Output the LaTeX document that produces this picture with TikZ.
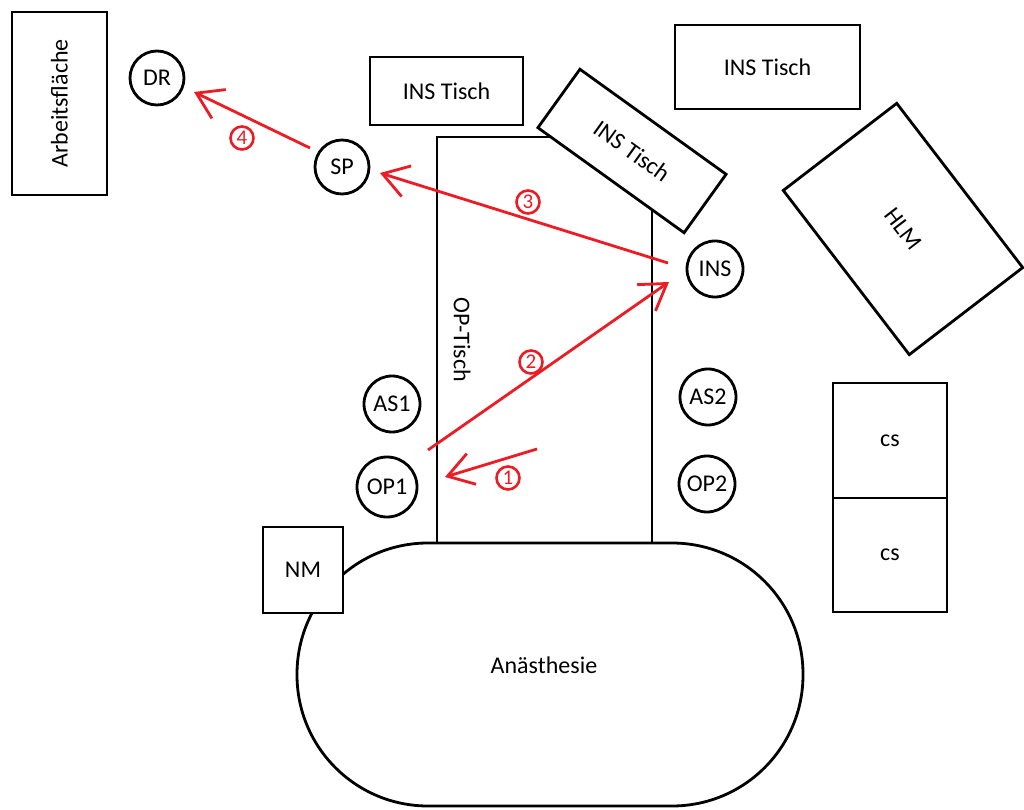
\documentclass[tikz,border=0pt]{standalone}
\usepackage{fontspec}
\setmainfont{Carlito}
\usetikzlibrary{arrows.meta}
\definecolor{arrred}{RGB}{237,28,36}
\tikzset{
  thing/.style={draw=black, line width=2.8pt, fill=white, inner sep=0pt, font=\fontsize{24}{28}\selectfont},
  pers/.style={thing, circle},
  lbl/.style={inner sep=0pt, font=\fontsize{24}{28}\selectfont},
  flow/.style={draw=arrred, line width=2.8pt, -{Straight Barb[length=25pt,width=32pt,line width=2.8pt]}},
  num/.style={circle, draw=arrred, line width=2.6pt, text=arrred, minimum size=23pt, inner sep=0pt, font=\fontsize{21}{22}\selectfont}
}
\begin{document}
\begin{tikzpicture}[x=1pt,y=1pt]
\useasboundingbox[fill=white] (0,0) rectangle (1024,809);
% Anaesthesie
\draw[line width=2.8pt, rounded corners=131pt] (297,266) rectangle (803,3);
\node[lbl] (anae) at (544,144) {Anästhesie};
% NM
\node[thing, minimum width=80pt, minimum height=86pt] (nm) at (303,239) {NM};
% OP-Tisch
\node[thing, fill=none, minimum width=215pt, minimum height=406pt] (op) at (544.5,469) {};
\node[lbl, rotate=-90] (optxt) at (462,469) {OP-Tisch};
% INS Tisch rotated
\node[thing, rotate=-35.7, minimum width=180pt, minimum height=72pt] (ins3) at (632,658) {INS Tisch};
% INS Tisch boxes
\node[thing, minimum width=153pt, minimum height=68pt] (ins1) at (446.5,718) {INS Tisch};
\node[thing, minimum width=185pt, minimum height=84pt] (ins2) at (767.5,742) {INS Tisch};
% Arbeitsflaeche
\node[thing, rotate=90, minimum width=183pt, minimum height=95pt] (arb) at (59.5,705.5) {Arbeitsfläche};
% HLM
\node[thing, rotate=-52.5, minimum width=207pt, minimum height=143pt] (hlm) at (903,580) {HLM};
% cs
\node[thing, minimum width=114pt, minimum height=115pt] (cs1) at (890,368.5) {cs};
\node[thing, minimum width=114pt, minimum height=114pt] (cs2) at (890,254) {cs};
% persons
\node[pers, minimum size=54pt] (dr) at (157,731) {DR};
\node[pers, minimum size=54pt] (sp) at (342,642) {SP};
\node[pers, minimum size=56pt] (ins) at (715,540) {INS};
\node[pers, minimum size=56pt] (as1) at (392,405) {AS1};
\node[pers, minimum size=60pt] (op1) at (387,322) {OP1};
\node[pers, minimum size=56pt] (as2) at (708,412) {AS2};
\node[pers, minimum size=56pt] (op2) at (707,325) {OP2};
% arrow end points
\coordinate (a1s) at (537,360); \coordinate (a1e) at (445,332);
\coordinate (a2s) at (428,359); \coordinate (a2e) at (669,527);
\coordinate (a3s) at (668,546); \coordinate (a3e) at (380,636);
\coordinate (a4s) at (310,661); \coordinate (a4e) at (194,717);
\draw[flow] (a1s) -- (a1e);
\draw[flow] (a2s) -- (a2e);
\draw[flow] (a3s) -- (a3e);
\draw[flow] (a4s) -- (a4e);
\node[num] (n1) at (508,331) {1};
\node[num] (n2) at (531,447) {2};
\node[num] (n3) at (528,607) {3};
\node[num] (n4) at (242,671) {4};
\end{tikzpicture}
\end{document}
